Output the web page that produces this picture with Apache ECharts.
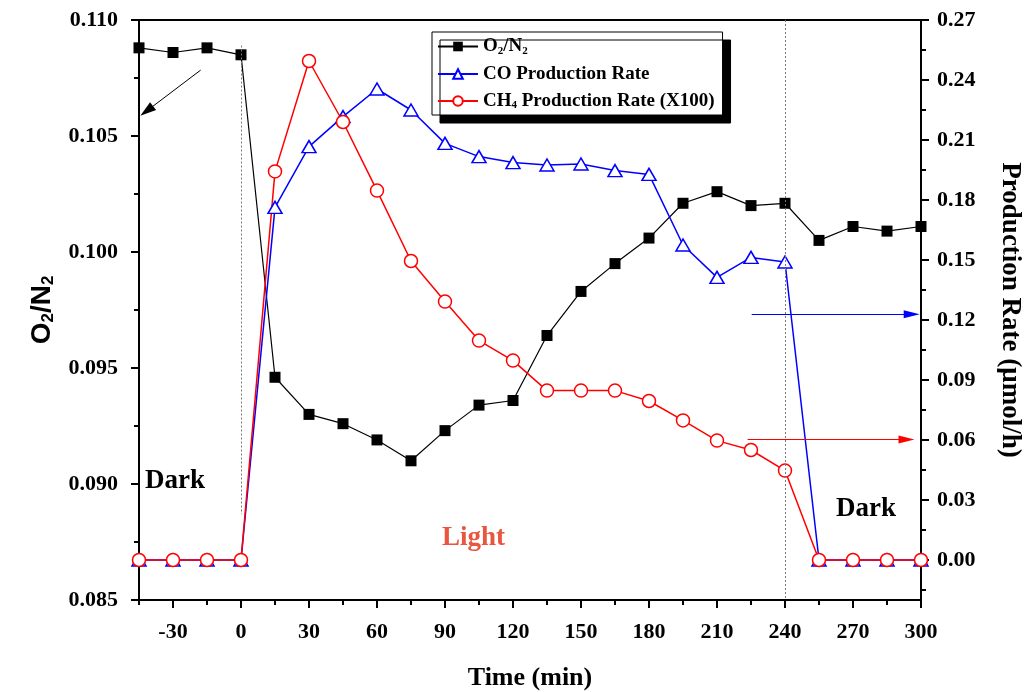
<!DOCTYPE html>
<html>
<head>
<meta charset="utf-8">
<script src="https://cdn.jsdelivr.net/npm/echarts@6/dist/echarts.min.js"></script>
<style>
html,body{margin:0;padding:0;background:#fff;}
#chart{width:1026px;height:692px;}
</style>
</head>
<body>
<div id="chart"></div>
<script>
// ---- data ----
var timeMin = [-45,-30,-15,0,15,30,45,60,75,90,105,120,135,150,165,180,195,210,225,240,255,270,285,300];
var o2n2 = [0.1088,0.1086,0.1088,0.1085,0.0946,0.0930,0.0926,0.0919,0.0910,0.0923,0.0934,0.0936,0.0964,0.0983,0.0995,0.1006,0.1021,0.1026,0.1020,0.1021,0.1005,0.1011,0.1009,0.1011];
var coRate = [0,0,0,0,0.1763,0.2067,0.2217,0.2355,0.2250,0.2083,0.2017,0.1987,0.1975,0.1980,0.1947,0.1928,0.1575,0.1413,0.1513,0.1490,0,0,0,0];
var ch4Rate = [0,0,0,0,0.1943,0.2495,0.2190,0.1847,0.1495,0.1292,0.1097,0.0997,0.0847,0.0847,0.0847,0.0795,0.0698,0.0597,0.0550,0.0447,0,0,0,0];
var xMajorTicks = [-30,0,30,60,90,120,150,180,210,240,270,300];
var xMinorTicks = [-45,-15,15,45,75,105,135,165,195,225,255,285];
var rightMajorTicks = [0,0.03,0.06,0.09,0.12,0.15,0.18,0.21,0.24,0.27];
var rightMinorTicks = [-0.015,0.015,0.045,0.075,0.105,0.135,0.165,0.195,0.225,0.255];

function pairs(xs, ys){ return xs.map(function(x,i){ return [x, ys[i]]; }); }

var SERIF = '"Liberation Serif","Times New Roman",serif';
var SANS = '"Liberation Sans",Arial,sans-serif';
var tickFont = {fontFamily: SERIF, fontWeight: 'bold', fontSize: 22, color: '#000'};

var chart = echarts.init(document.getElementById('chart'), null, {renderer: 'canvas'});
var option = {
  animation: false,
  backgroundColor: '#fff',
  grid: {left: 139, right: 105, top: 20, bottom: 92, outerBoundsMode: 'none', containLabel: false,
         show: true, borderColor: '#000', borderWidth: 2, backgroundColor: 'transparent'},
  legend: {
    orient: 'vertical', left: 432, top: 32,
    padding: [5, 8, 4, 5], itemGap: 8, itemWidth: 40, itemHeight: 12,
    backgroundColor: '#fff', borderColor: '#000', borderWidth: 1,
    shadowColor: '#000', shadowBlur: 0, shadowOffsetX: 8, shadowOffsetY: 8,
    data: ['O2/N2', 'CO Production Rate', 'CH4 Production Rate (X100)'],
    formatter: function(name){
      if (name === 'O2/N2') return '{a|O}{s|2}{a|/N}{s|2}';
      if (name === 'CH4 Production Rate (X100)') return '{a|CH}{s|4}{a| Production Rate (X100)}';
      return '{a|' + name + '}';
    },
    textStyle: {
      rich: {
        a: {fontFamily: SERIF, fontWeight: 'bold', fontSize: 19, color: '#000', lineHeight: 20},
        s: {fontFamily: SERIF, fontWeight: 'bold', fontSize: 11, color: '#000', lineHeight: 10, verticalAlign: 'bottom'}
      }
    }
  },
  xAxis: [{
    type: 'value', min: -45, max: 300, position: 'bottom',
    name: 'Time (min)', nameLocation: 'middle', nameGap: 65,
    nameTextStyle: {fontFamily: SERIF, fontWeight: 'bold', fontSize: 26, color: '#000'},
    axisLine: {show: true, onZero: false, lineStyle: {color: '#000', width: 2}},
    axisTick: {show: true, length: 8, lineStyle: {color: '#000', width: 2}, customValues: xMajorTicks},
    axisLabel: Object.assign({margin: 21, customValues: xMajorTicks}, tickFont),
    splitLine: {show: false}
  }, {
    type: 'value', min: -45, max: 300, position: 'bottom',
    axisLine: {show: false, onZero: false},
    axisTick: {show: true, length: 5, lineStyle: {color: '#000', width: 2}, customValues: xMinorTicks},
    axisLabel: {show: false},
    splitLine: {show: false}
  }],
  yAxis: [{
    type: 'value', min: 0.085, max: 0.110, interval: 0.005, position: 'left',
    name: '{a|O}{s|2}{a|/N}{s|2}', nameLocation: 'middle', nameGap: 82,
    nameTextStyle: {rich: {
      a: {fontFamily: SANS, fontWeight: 'bold', fontSize: 28, color: '#000', lineHeight: 30},
      s: {fontFamily: SANS, fontWeight: 'bold', fontSize: 17, color: '#000', lineHeight: 12, verticalAlign: 'bottom'}
    }},
    axisLine: {show: true, onZero: false, lineStyle: {color: '#000', width: 2}},
    axisTick: {show: true, length: 8, lineStyle: {color: '#000', width: 2}},
    minorTick: {show: true, splitNumber: 2, length: 5, lineStyle: {color: '#000', width: 2}},
    axisLabel: Object.assign({margin: 21, formatter: function(v){ return v.toFixed(3); }}, tickFont),
    splitLine: {show: false}, minorSplitLine: {show: false}
  }, {
    type: 'value', min: -0.02, max: 0.27, position: 'right',
    name: 'Production Rate (μmol/h)', nameLocation: 'middle', nameRotate: -90, nameGap: 75,
    nameTextStyle: {fontFamily: SERIF, fontWeight: 'bold', fontSize: 27, color: '#000'},
    axisLine: {show: true, onZero: false, lineStyle: {color: '#000', width: 2}},
    axisTick: {show: true, length: 8, lineStyle: {color: '#000', width: 2}, customValues: rightMajorTicks},
    axisLabel: Object.assign({margin: 16, customValues: rightMajorTicks, formatter: function(v){ return v.toFixed(2); }}, tickFont),
    splitLine: {show: false}
  }, {
    type: 'value', min: -0.02, max: 0.27, position: 'right',
    axisLine: {show: false, onZero: false},
    axisTick: {show: true, length: 5, lineStyle: {color: '#000', width: 2}, customValues: rightMinorTicks},
    axisLabel: {show: false},
    splitLine: {show: false}
  }],
  series: [{
    name: 'O2/N2', type: 'line', xAxisIndex: 0, yAxisIndex: 0, clip: false,
    data: pairs(timeMin, o2n2),
    symbol: 'rect', symbolSize: 11,
    itemStyle: {color: '#000'},
    lineStyle: {color: '#000', width: 1.2},
    markLine: {
      silent: true, animation: false, label: {show: false},
      data: [
        [{coord: [0, 0.1089], symbol: 'none', lineStyle: {type: [2, 2], color: '#777', width: 1}},
         {coord: [0, 0.0887], symbol: 'none'}],
        [{coord: [240, 0.110], symbol: 'none', lineStyle: {type: [2, 2], color: '#777', width: 1}},
         {coord: [240, 0.085], symbol: 'none'}],
        [{coord: [-17.8, 0.10784], symbol: 'none', lineStyle: {type: 'solid', color: '#000', width: 1}},
         {coord: [-41.6, 0.10608], symbol: 'triangle', symbolSize: [10, 16]}]
      ]
    }
  }, {
    name: 'CO Production Rate', type: 'line', xAxisIndex: 0, yAxisIndex: 1, clip: false,
    data: pairs(timeMin, coRate),
    symbol: 'triangle', symbolSize: [14, 12],
    itemStyle: {color: '#fff', borderColor: '#0000ff', borderWidth: 1.5},
    lineStyle: {color: '#0000ff', width: 1.5},
    markLine: {
      silent: true, animation: false, label: {show: false},
      data: [
        [{coord: [225.3, 0.1229], symbol: 'none', lineStyle: {type: 'solid', color: '#0000ff', width: 1}},
         {coord: [295.9, 0.1229], symbol: 'triangle', symbolSize: [8, 16]}]
      ]
    }
  }, {
    name: 'CH4 Production Rate (X100)', type: 'line', xAxisIndex: 0, yAxisIndex: 1, clip: false,
    data: pairs(timeMin, ch4Rate),
    symbol: 'circle', symbolSize: 13,
    itemStyle: {color: '#fff', borderColor: '#ff0000', borderWidth: 1.5},
    lineStyle: {color: '#ff0000', width: 1.5},
    markLine: {
      silent: true, animation: false, label: {show: false},
      data: [
        [{coord: [223.5, 0.0603], symbol: 'none', lineStyle: {type: 'solid', color: '#ff0000', width: 1}},
         {coord: [293.6, 0.0603], symbol: 'triangle', symbolSize: [8, 16]}]
      ]
    }
  }],
  graphic: [
    {type: 'text', left: 145, top: 468, style: {text: 'Dark', fontFamily: SERIF, fontWeight: 'bold', fontSize: 27, fill: '#000'}},
    {type: 'text', left: 442, top: 525, style: {text: 'Light', fontFamily: SERIF, fontWeight: 'bold', fontSize: 27, fill: '#E9553D'}},
    {type: 'text', left: 836, top: 496, style: {text: 'Dark', fontFamily: SERIF, fontWeight: 'bold', fontSize: 27, fill: '#000'}}
  ]
};
chart.setOption(option);
</script>
</body>
</html>
